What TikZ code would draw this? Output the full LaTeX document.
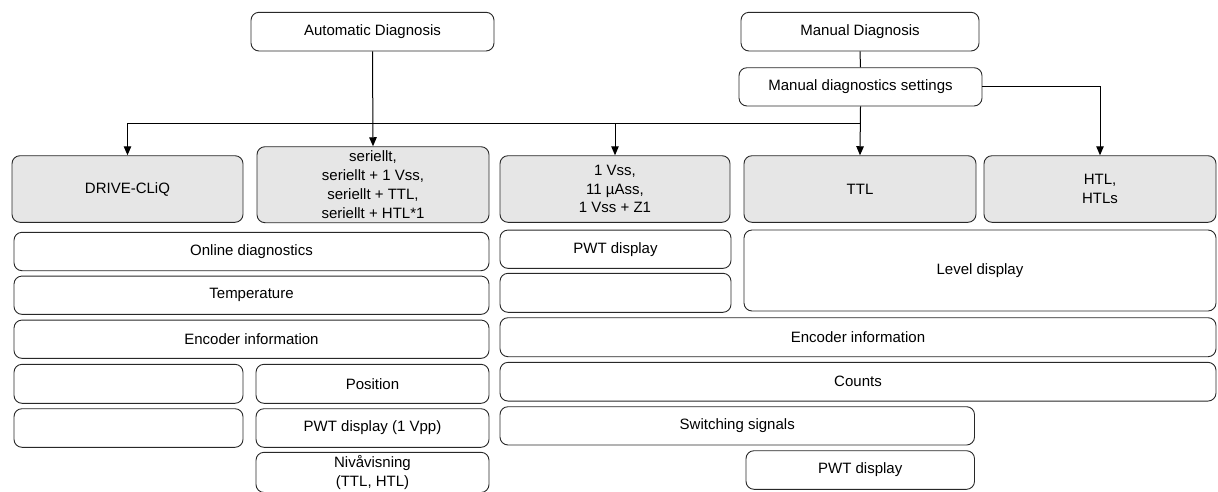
\documentclass[tikz,border=0pt]{standalone}
\usepackage{fontspec}
\setmainfont{Liberation Sans}
\usetikzlibrary{arrows.meta}
\definecolor{boxline}{RGB}{40,40,40}
\definecolor{boxgray}{RGB}{230,230,230}
\begin{document}
\begin{tikzpicture}[x=1pt,y=-1pt,
  box/.style={draw=boxline,line width=0.9pt,rounded corners=8pt,fill=white,
    inner sep=0pt,align=center,font=\fontsize{15}{18.8}\selectfont},
  gbox/.style={box,fill=boxgray},
  arr/.style={draw=black,line width=1pt,-{Triangle[length=9pt,width=7.5pt]}},
  ln/.style={draw=black,line width=1pt}]
\useasboundingbox (0,0) rectangle (1218,491);
\node[box,minimum width=243pt,minimum height=38.7pt] (auto) at (372.5,31.65) {Automatic Diagnosis};
\node[box,minimum width=238pt,minimum height=38.7pt] (md) at (860,31.65) {Manual Diagnosis};
\node[box,minimum width=243pt,minimum height=38.3pt] (mds) at (860.5,86.85) {Manual diagnostics settings};
\node[gbox,minimum width=231pt,minimum height=66.6pt] (dcq) at (127.5,189) {DRIVE-CLiQ};
\node[gbox,minimum width=232pt,minimum height=76pt] (ser) at (373,184.7) {seriellt,\\seriellt + 1 Vss,\\seriellt + TTL,\\seriellt + HTL*1};
\node[gbox,minimum width=230pt,minimum height=66.6pt] (vss) at (615,189) {1 Vss,\\11 µAss,\\1 Vss + Z1};
\node[gbox,minimum width=232pt,minimum height=66.6pt] (ttl) at (860,189) {TTL};
\node[gbox,minimum width=232pt,minimum height=66.6pt] (htl) at (1100,189) {HTL,\\HTLs};
\node[box,minimum width=475pt,minimum height=38.4pt] (online) at (251.5,251.5) {Online diagnostics};
\node[box,minimum width=231pt,minimum height=38.3pt] (pwta) at (615.5,249.2) {PWT display};
\node[box,minimum width=472pt,minimum height=81pt] (lvl) at (980,270.5) {Level display};
\node[box,minimum width=475pt,minimum height=38.3pt] (temp) at (251.5,295.2) {Temperature};
\node[box,minimum width=231pt,minimum height=39pt] (empa) at (615.5,292.8) {};
\node[box,minimum width=475pt,minimum height=38.3pt] (enca) at (251.5,339.2) {Encoder information};
\node[box,minimum width=716pt,minimum height=39pt] (encb) at (858,337.2) {Encoder information};
\node[box,minimum width=229pt,minimum height=39pt] (empb) at (128.5,383.8) {};
\node[box,minimum width=233pt,minimum height=39pt] (pos) at (372.5,383.8) {Position};
\node[box,minimum width=716pt,minimum height=38.7pt] (counts) at (858,381.7) {Counts};
\node[box,minimum width=229pt,minimum height=38.6pt] (empc) at (128.5,428) {};
\node[box,minimum width=233pt,minimum height=38.6pt] (pwtb) at (372.5,428) {PWT display (1 Vpp)};
\node[box,minimum width=474.5pt,minimum height=38.3pt] (sw) at (737.25,425.85) {Switching signals};
\node[box,minimum width=233pt,minimum height=40.2pt] (niv) at (372.5,472.4) {Nivåvisning\\(TTL, HTL)};
\node[box,minimum width=228.5pt,minimum height=38.6pt] (pwtc) at (860.25,470) {PWT display};
% connectors
\coordinate (j1) at (372.5,123.3);
\coordinate (j2) at (860.5,123.3);
\draw[arr] (auto.south) -- (ser.north);
\draw[arr] (j1) -| (dcq.north);
\draw[ln] (j1) -- (j2);
\draw[arr] (j2) -| (vss.north);
\draw[ln] (md.south) -- (mds.north);
\draw[arr] (mds.south) -- (ttl.north);
\draw[arr] (mds.east) -| (htl.north);
\end{tikzpicture}
\end{document}
